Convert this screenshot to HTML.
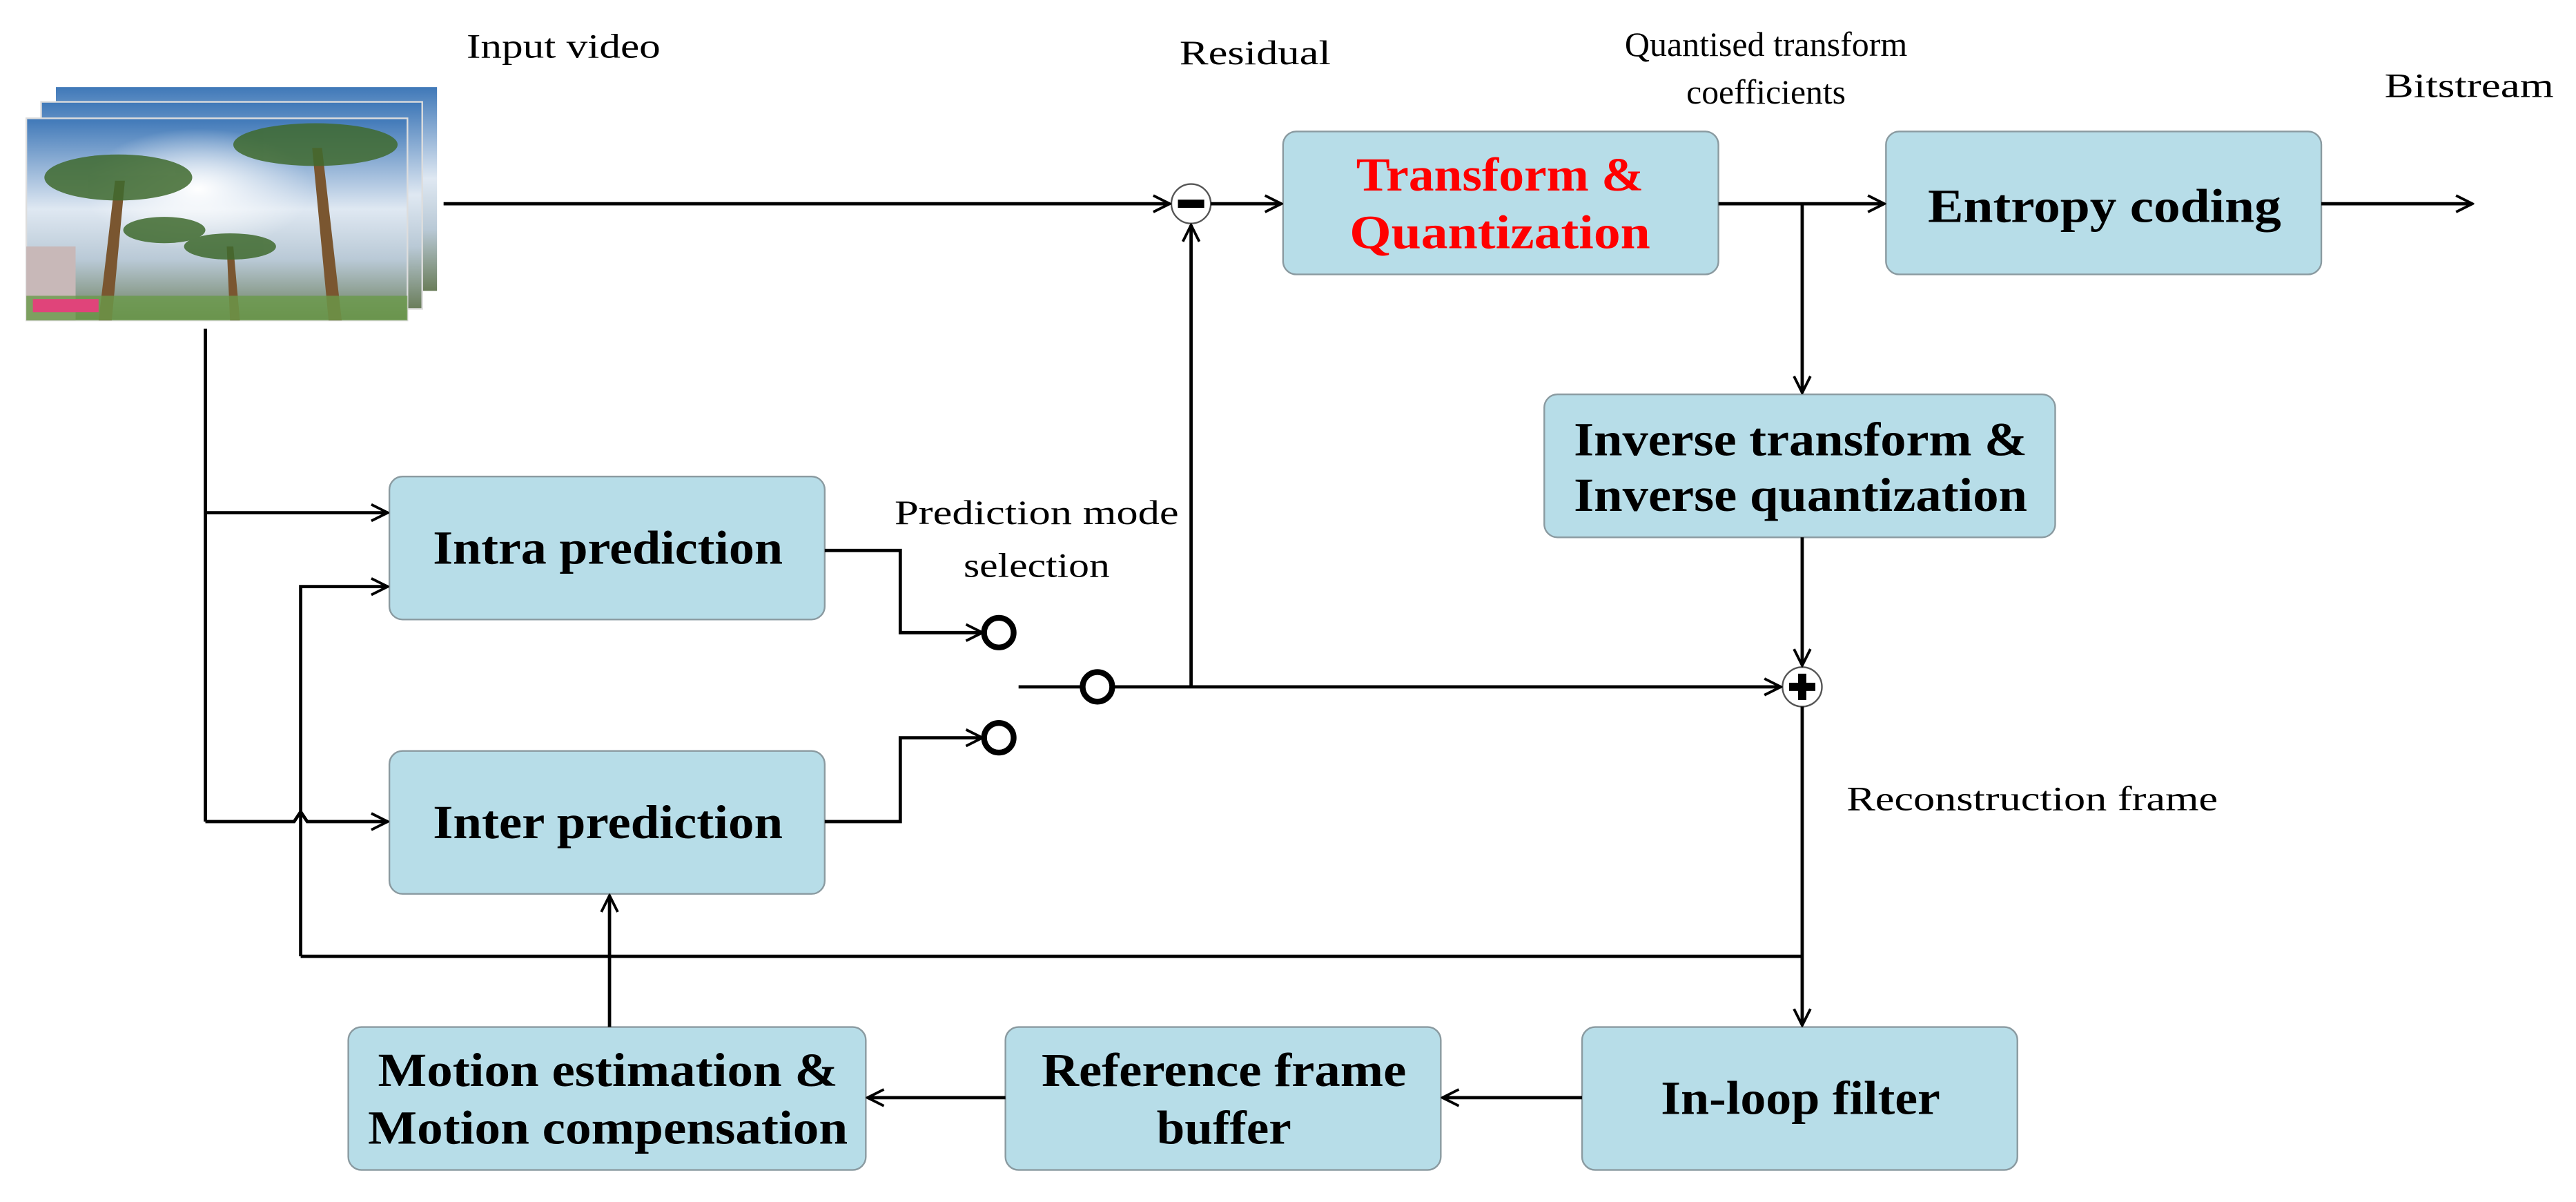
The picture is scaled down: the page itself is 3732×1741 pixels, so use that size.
<!DOCTYPE html>
<html><head><meta charset="utf-8"><style>html,body{margin:0;padding:0;background:#fff}svg{display:block}</style></head>
<body>
<svg width="3732" height="1741" viewBox="0 0 1568 731.5" xmlns="http://www.w3.org/2000/svg" font-family="'Liberation Serif', 'Times New Roman', Times, serif">
<defs>
<marker id="a" viewBox="0 0 12 12" refX="11" refY="6" markerWidth="12" markerHeight="12" markerUnits="userSpaceOnUse" orient="auto">
<path d="M1,1 L11,6 L1,11" fill="none" stroke="#000" stroke-width="1.6"/></marker>
<linearGradient id="sky" x1="0" y1="0" x2="0" y2="1">
<stop offset="0" stop-color="#3f78b8"/><stop offset="0.45" stop-color="#dfe8f2"/><stop offset="0.7" stop-color="#b9c9d6"/><stop offset="1" stop-color="#6a7d5a"/></linearGradient>
<radialGradient id="sun" cx="0.45" cy="0.35" r="0.3"><stop offset="0" stop-color="#fff"/><stop offset="1" stop-color="#fff" stop-opacity="0"/></radialGradient>
</defs>
<style>
.b{fill:#b7dde8;stroke:#8a9aa0;stroke-width:1}
.t{font-family:"Liberation Serif","Times New Roman",serif;font-weight:bold;font-size:29px;text-anchor:middle}
.l{font-family:"Liberation Serif","Times New Roman",serif;font-size:21px;text-anchor:middle}
.w{fill:none;stroke:#000;stroke-width:2}
</style>
<g>
<rect x="34" y="53" width="232" height="124" fill="url(#sky)"/>
<rect x="25" y="62" width="232" height="126" fill="url(#sky)" stroke="#ddd"/>
<rect x="16" y="72" width="232" height="123" fill="url(#sky)" stroke="#ddd"/>
<rect x="16" y="72" width="232" height="123" fill="url(#sun)"/>
<path d="M60,195 L70,110 L76,110 L68,195Z M200,195 L190,90 L196,90 L208,195Z M140,195 L138,150 L142,150 L146,195Z" fill="#7a5630"/>
<g fill="#3f6a2e" opacity="0.85">
<ellipse cx="72" cy="108" rx="45" ry="14"/><ellipse cx="192" cy="88" rx="50" ry="13"/><ellipse cx="140" cy="150" rx="28" ry="8"/><ellipse cx="100" cy="140" rx="25" ry="8"/>
</g>
<rect x="16" y="150" width="30" height="45" fill="#c8b8b8"/>
<rect x="16" y="180" width="232" height="15" fill="#6a9a4a" opacity="0.8"/>
<rect x="20" y="182" width="40" height="8" fill="#e0447a"/>
</g>
<text class="l" x="343" y="35" textLength="118" lengthAdjust="spacingAndGlyphs">Input video</text>
<text class="l" x="764" y="39" textLength="92" lengthAdjust="spacingAndGlyphs">Residual</text>
<text class="l" x="1075" y="34" textLength="172" lengthAdjust="spacingAndGlyphs">Quantised transform</text>
<text class="l" x="1075" y="63" textLength="97" lengthAdjust="spacingAndGlyphs">coefficients</text>
<text class="l" x="1503" y="59" textLength="103" lengthAdjust="spacingAndGlyphs">Bitstream</text>
<text class="l" x="631" y="319" textLength="173" lengthAdjust="spacingAndGlyphs">Prediction mode</text>
<text class="l" x="631" y="351" textLength="89" lengthAdjust="spacingAndGlyphs">selection</text>
<text class="l" x="1237" y="493" textLength="226" lengthAdjust="spacingAndGlyphs">Reconstruction frame</text>
<rect class="b" x="781" y="80" width="265" height="87" rx="8"/>
<text class="t" x="913" y="116" fill="#ff0000" textLength="175" lengthAdjust="spacingAndGlyphs">Transform &amp;</text>
<text class="t" x="913" y="151" fill="#ff0000" textLength="183" lengthAdjust="spacingAndGlyphs">Quantization</text>
<rect class="b" x="1148" y="80" width="265" height="87" rx="8"/>
<text class="t" x="1281" y="135" textLength="215" lengthAdjust="spacingAndGlyphs">Entropy coding</text>
<rect class="b" x="940" y="240" width="311" height="87" rx="8"/>
<text class="t" x="1096" y="277" textLength="276" lengthAdjust="spacingAndGlyphs">Inverse transform &amp;</text>
<text class="t" x="1096" y="311" textLength="276" lengthAdjust="spacingAndGlyphs">Inverse quantization</text>
<rect class="b" x="237" y="290" width="265" height="87" rx="8"/>
<text class="t" x="370" y="343" textLength="213" lengthAdjust="spacingAndGlyphs">Intra prediction</text>
<rect class="b" x="237" y="457" width="265" height="87" rx="8"/>
<text class="t" x="370" y="510" textLength="213" lengthAdjust="spacingAndGlyphs">Inter prediction</text>
<rect class="b" x="212" y="625" width="315" height="87" rx="8"/>
<text class="t" x="370" y="661" textLength="280" lengthAdjust="spacingAndGlyphs">Motion estimation &amp;</text>
<text class="t" x="370" y="696" textLength="292" lengthAdjust="spacingAndGlyphs">Motion compensation</text>
<rect class="b" x="612" y="625" width="265" height="87" rx="8"/>
<text class="t" x="745" y="661" textLength="222" lengthAdjust="spacingAndGlyphs">Reference frame</text>
<text class="t" x="745" y="696" textLength="82" lengthAdjust="spacingAndGlyphs">buffer</text>
<rect class="b" x="963" y="625" width="265" height="87" rx="8"/>
<text class="t" x="1096" y="678" textLength="170" lengthAdjust="spacingAndGlyphs">In-loop filter</text>
<circle cx="725" cy="124" r="12" fill="#fff" stroke="#555" stroke-width="1"/>
<rect x="717" y="121.5" width="16" height="5" fill="#000"/>
<circle cx="1097" cy="418" r="12" fill="#fff" stroke="#555" stroke-width="1"/>
<rect x="1089" y="415.5" width="16" height="5" fill="#000"/><rect x="1094.5" y="410" width="5" height="16" fill="#000"/>
<circle cx="608" cy="385" r="9" fill="#fff" stroke="#000" stroke-width="3.5"/>
<circle cx="608" cy="449" r="9" fill="#fff" stroke="#000" stroke-width="3.5"/>
<circle cx="668" cy="418" r="9" fill="#fff" stroke="#000" stroke-width="3.5"/>
<g class="w">
<path d="M270,124 H712" marker-end="url(#a)"/>
<path d="M737,124 H780" marker-end="url(#a)"/>
<path d="M1046,124 H1147" marker-end="url(#a)"/>
<path d="M1097,124 V239" marker-end="url(#a)"/>
<path d="M1413,124 H1505" marker-end="url(#a)"/>
<path d="M1097,327 V405" marker-end="url(#a)"/>
<path d="M125,200 V500"/>
<path d="M125,312 H236" marker-end="url(#a)"/>
<path d="M125,500 H179 L183,494 L187,500 H236" marker-end="url(#a)"/>
<path d="M183,582 V357 H236" marker-end="url(#a)"/>
<path d="M183,582 H1097"/>
<path d="M502,335 H548 V385 H598" marker-end="url(#a)"/>
<path d="M502,500 H548 V449 H598" marker-end="url(#a)"/>
<path d="M620,418 H659 M677,418 H1084" marker-end="url(#a)"/>
<path d="M725,418 V137" marker-end="url(#a)"/>
<path d="M1097,430 V624" marker-end="url(#a)"/>
<path d="M371,625 V545" marker-end="url(#a)"/>
<path d="M963,668 H878" marker-end="url(#a)"/>
<path d="M612,668 H528" marker-end="url(#a)"/>
</g>
</svg>
</body></html>
